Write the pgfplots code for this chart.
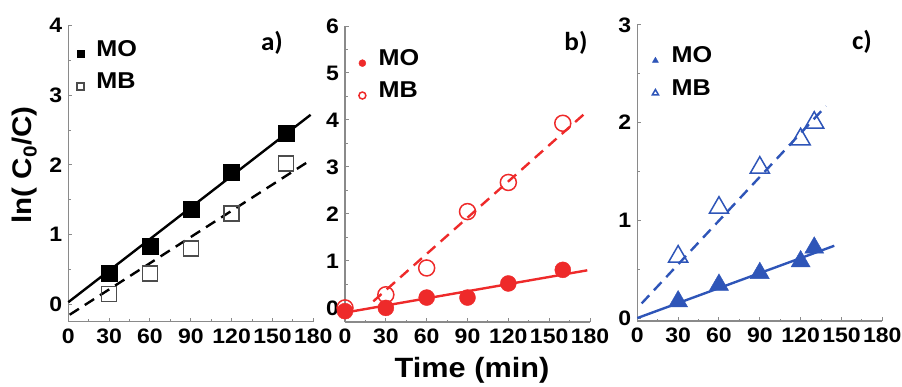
\documentclass[border=0pt]{standalone}
\usepackage{pgfplots}
\pgfplotsset{compat=1.18}
\usepackage{fontspec}
\setmainfont{Liberation Sans}[FakeStretch=1.1]
\newfontfamily\calfont{Carlito}[FakeStretch=1.05]
\definecolor{myred}{HTML}{EE2A2A}
\definecolor{myblue}{HTML}{2E55B8}
\definecolor{axgray}{HTML}{8A8A8A}
\pgfplotsset{
  panel/.style={
    scale only axis, width=245bp, height=296bp,
    xmin=0, xmax=180, xtick={0,30,...,180}, minor x tick num=1,
    axis x line*=bottom, axis y line*=left,
    axis line style={axgray, line width=1.4bp},
    every tick/.style={axgray, line width=1bp},
    tick align=inside, major tick length=4bp, minor tick length=2.5bp,
    /pgf/number format/assume math mode=true,
    tick label style={font=\bfseries\fontsize{21}{23}\selectfont, inner sep=0pt},
    xticklabel style={yshift=-7bp},
    yticklabel style={xshift=-6bp},
    clip=false,
    legend cell align=left,
    legend style={draw=none, fill=none, anchor=north west, inner sep=0pt,
      font=\bfseries\fontsize{23}{26}\selectfont, row sep=13bp,
      nodes={inner sep=1bp}},
    legend image code/.code={\path (-4bp,0bp) (15bp,0bp);
      \draw[#1, mark size=3.5bp, yshift=-5bp] plot coordinates {(0bp,0bp)};},
  },
  fitsolid/.style={no markers, line width=2.4bp, forget plot},
  fitdash/.style={no markers, line width=2.4bp, dash pattern=on 11bp off 7bp, forget plot},
}
\begin{document}
\begin{tikzpicture}
\path[use as bounding box] (0,0) rectangle (902bp,387bp);
% ---------- a)
\begin{axis}[panel, at={(68.3bp,65.3bp)}, anchor=south west,
  ymin=-0.25, ymax=4, ytick={0,1,2,3,4}, minor y tick num=1,
  legend style={at={(axis description cs:0.031,0.955)}}]
\addplot[fitsolid, black] coordinates {(0,0.03) (178,2.72)};
\addplot[fitdash, black] coordinates {(1,-0.15) (178,2.07)};
\addplot[only marks, mark=square*, mark size=8bp, black] coordinates {
 (30,0.44) (60,0.84) (90,1.36) (120,1.89) (160,2.46)};
\addlegendentry{MO}
\addplot[only marks, mark=square, mark size=7.5bp, mark options={line width=1.5bp, draw=black!70}] coordinates {
 (30,0.15) (60,0.44) (90,0.80) (120,1.30) (160,2.02)};
\addlegendentry{MB}
\end{axis}
% ---------- b)
\begin{axis}[panel, at={(345bp,65bp)}, anchor=south west,
  ymin=-0.3, ymax=6, ytick={0,1,2,3,4,5,6}, minor y tick num=1,
  legend style={at={(axis description cs:0.053,0.925)}}]
\addplot[fitsolid, myred] coordinates {(0,-0.1) (178,0.80)};
\addplot[fitdash, myred] coordinates {(20.8,0.14) (177.8,4.18)};
\addplot[only marks, mark=*, mark size=8bp, myred] coordinates {
 (0,-0.07) (30,0.0) (60,0.22) (90,0.22) (120,0.52) (160,0.81)};
\addlegendentry{MO}
\addplot[only marks, mark=o, mark size=8bp, mark options={line width=1.5bp, draw=myred}] coordinates {
 (0,0.0) (30,0.28) (60,0.85) (90,2.05) (120,2.67) (160,3.93)};
\addlegendentry{MB}
\end{axis}
% ---------- c)
\begin{axis}[panel, at={(637.3bp,66bp)}, anchor=south west,
  ymin=-0.03, ymax=3, ytick={0,1,2,3}, minor y tick num=1,
  legend style={at={(axis description cs:0.056,0.93)}}]
\addplot[fitsolid, myblue] coordinates {(0,0) (144.7,0.74)};
\addplot[fitdash, myblue] coordinates {(3.2,0.15) (138.6,2.17)};
\addplot[only marks, mark=triangle*, mark size=11bp, myblue] coordinates {
 (30,0.17) (60,0.34) (90,0.46) (120,0.58) (130,0.72)};
\addlegendentry{MO}
\addplot[only marks, mark=triangle, mark size=11bp, mark options={line width=1.5bp, draw=myblue}] coordinates {
 (30,0.63) (60,1.13) (90,1.54) (120,1.83) (130,2.00)};
\addlegendentry{MB}
\end{axis}
% ---------- labels
\node[rotate=90, font=\bfseries\fontsize{27}{30}\selectfont] at (25bp,222bp) {ln( C\textsubscript{0}/C)};
\node[font=\bfseries\fontsize{28}{30}\selectfont] at (472bp,17bp) {Time (min)};
\node[font=\calfont\bfseries\fontsize{26}{28}\selectfont] at (272bp,344bp) {a)};
\node[font=\calfont\bfseries\fontsize{26}{28}\selectfont] at (576bp,344bp) {b)};
\node[font=\calfont\bfseries\fontsize{26}{28}\selectfont] at (862bp,345bp) {c)};
\end{tikzpicture}
\end{document}
